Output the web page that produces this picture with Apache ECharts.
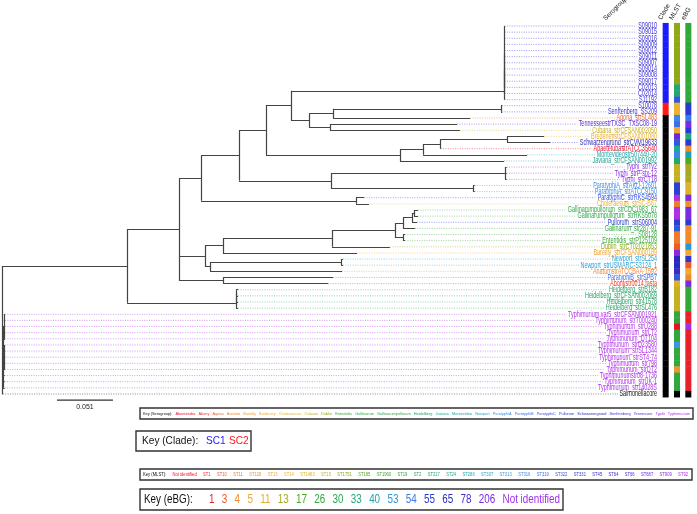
<!DOCTYPE html>
<html><head><meta charset="utf-8">
<script src="https://cdn.jsdelivr.net/npm/echarts@6/dist/echarts.min.js"></script>
<style>html,body{margin:0;padding:0;background:#fff}#c{width:697px;height:514px}</style>
</head><body><div id="c"></div>
<script>
// ---------------- DATA ----------------
// Phylogeny (Newick, branch lengths in substitutions/site)
const treeNewick =
"((((((((((((((S09010:0.0005,S09015:0.0005,S09016:0.0005,S09009:0.0005,S09012:0.0005,S09011:0.0005,S09007:0.0005,S09014:0.0005,S09008:0.0005,S09017:0.0005):0,C02013:0.0005):0,C02014:0.0005):0,S11192:0.0005):0.1940," +
"(((S10078:0.001,Senftenberg_SS209:0.001):0.1530,Agona_strSL483:0.1248):0.0219,(TennesseestrTXSC_TXSC08-19:0.1157,Cubana_strCFSAN002050:0.1184):0.0191):0.0164):0.0228," +
"((((BredeneystrCFSAN001080:0.0337,Schwarzengrund_strCVM19633:0.0392):0.0610,AbaetetubastrATCC35640:0.0005):0.0155,Montevideostr507440-20:0.0947):0.0210,Javiana_strCFSAN001992:0.0947):0.1221):0.0246," +
"((Typhi_strTy2:0.0015,Typhi_strP-stx-12:0.0015,Typhi_strCT18:0.0015):0.1585,(ParatyphiA_strAKU-12601:0.0015,ParatyphiA_strATCC9150:0.0015):0.1294):0.0838):0.0346," +
"(ParatyphiC_strRKS4594:0.0073,Choleraesuis_strSC-B67:0.0118):0.1412):0.0200," +
"((((((((Gallinarumpullorum_strCDC1983_67:0.0036,Gallinarumpullorum_strRKS5078:0.0036):0.0018,Pullorum_strS06004:0.0046):0.0082,Gallinarum_str287-91:0.0109):0.0073,(S08128:0.0018,Enteritidis_strP125109:0.0018):0.0073):0.0574,Dublin_strCT02021853:0.0528):0.0993,Bareilly_strCFSAN000189:0.1221):0.0164," +
"((Newport_strSL254:0.0018,Newport_strUSMARC-S3124_1:0.0018):0.1193,AnatumstrATCCBAA-1592:0.1203):0.0046):0.0118):0.0118," +
"(ParatyphiB_strSPB7:0.1002,Abonystr0014.fasta:0.0957):0.0401):0.0474," +
"(((Heidelberg_strB182:0.0018,Heidelberg_strCFSAN002069:0.0018):0,Heidelberg_str41578:0.0018):0,Heidelberg_strSL476:0.0018):0.0993):0.1139," +
"((Typhimurium.var5_strCFSAN001921:0.001,Typhimurium_strT000240:0.001,Typhimurium_strU288:0.001,Typhimurium_strLT2:0.001,Typhimurium_DT104:0.001):0.0008," +
"(Typhimurium_strD23580:0.001,Typhimurium_strSL1344:0.001,Typhimurium_strST4-74:0.001,Typhimurium_str798:0.001,Typhimurium_strDT2:0.001):0.0008," +
"Typhimuriumstr08-1736:0.0015,Typhimurium_strUK-1:0.0015,Typhimurium_str14028S:0.0015):0.0009,Salmonellacore:0.0008);";

// Per-leaf annotations, top to bottom
const leafSerogroup = [
 "Senftenberg","Senftenberg","Senftenberg","Senftenberg","Senftenberg","Senftenberg","Senftenberg","Senftenberg","Senftenberg","Senftenberg",
 "Senftenberg","Senftenberg","Senftenberg","Senftenberg","Senftenberg","Agona","Tennessee","Cubana","Bredeney","Schwarzengrund",
 "Abaetetuba","Montevideo","Javiana","Typhi","Typhi","Typhi","ParatyphiA","ParatyphiA","ParatyphiC","Choleraesuis",
 "Gallinarumpullorum","Gallinarumpullorum","Pullorum","Gallinarum","Enteritidis","Enteritidis","Dublin","Bareilly","Newport","Newport",
 "Anatum","ParatyphiB","Abony","Heidelberg","Heidelberg","Heidelberg","Heidelberg","Typhimurium","Typhimurium","Typhimurium",
 "Typhimurium","Typhimurium","Typhimurium","Typhimurium","Typhimurium","Typhimurium","Typhimurium","Typhimurium","Typhimurium","Typhimurium","none"];
const leafClade = [
 "SC1","SC1","SC1","SC1","SC1","SC1","SC1","SC1","SC1","SC1","SC1","SC1","SC1","SC2","SC2",
 "-","-","-","-","-","-","-","-","-","-","-","-","-","-","-","-","-","-","-","-","-","-","-","-","-","-","-","-","-","-","-",
 "-","-","-","-","-","-","-","-","-","-","-","-","-","-","-"];
const leafMLST = [
 "ST1751","ST1751","ST1751","ST1751","ST1751","ST1751","ST1751","ST1751","ST1751","ST1751",
 "ST217","ST217","ST322","ST14","ST14","ST316","ST319","ST13","ST687","ST322",
 "ST24","ST316","ST217","ST15","ST15","ST15","ST331","ST331","ST92","ST11",
 "ST92","ST92","ST331","ST322","ST11","ST11","ST10","ST909","ST45","ST45",
 "ST64","ST322","ST1483","ST15","ST15","ST15","ST15","ST19","ST19","Not identified",
 "ST19","ST19","ST313","ST19","ST19","ST19","ST128","ST19","ST19","ST19","-"];
const leafEBG = [
 "26","26","26","26","26","26","26","26","26","26","26","26","26","55","55",
 "54","206","55","33","55","4","40","17","13","13","13","11","11","206","4",
 "206","206","55","4","4","4","53","5","55","3",
 "5","4","206","26","26","26","26","1","1","Not identified",
 "1","1","1","1","1","1","1","1","1","1","-"];

const serogroupKey = ["Abaetetuba","Abony","Agona","Anatum","Bareilly","Bredeney","Choleraesuis","Cubana","Dublin","Enteritidis","Gallinarum","Gallinarumpullorum","Heidelberg","Javiana","Montevideo","Newport","ParatyphiA","ParatyphiB","ParatyphiC","Pullorum","Schwarzengrund","Senftenberg","Tennessee","Typhi","Typhimurium"];
const serogroupColors = ["#e8112d","#ec3b24","#f0622a","#f3892b","#f5a02a","#f2ad2a","#e6b52c","#c8b020","#8fa818","#3aa83a","#2ea838","#30a84a","#25a265","#1ea38a","#1fa3a8","#27a0d8","#3a8ee8","#3a6fe8","#3450e0","#2a35c8","#2a2ab8","#3a30d8","#5a2ad8","#8a2ae8","#b030e8"];
const cladeKey = ["SC1","SC2"];
const cladeColors = ["#1a1aff","#ff1a1a"];
const mlstKey = ["Not identified","ST1","ST10","ST11","ST128","ST13","ST14","ST1483","ST15","ST1751","ST185","ST1960","ST19","ST2","ST217","ST24","ST286","ST307","ST313","ST316","ST319","ST322","ST331","ST45","ST64","ST66","ST687","ST909","ST92"];
const mlstColors = ["#e8102a","#ee2e2e","#f05a28","#f27a2a","#f2952e","#f2a830","#f0b030","#e0b028","#c4b020","#90a818","#58a828","#38a830","#30a83e","#28a855","#20a870","#20a890","#20a8a8","#28a0c8","#3898e0","#3a88e8","#3a70e8","#3058e0","#2a40d0","#2a2ac0","#3a2ac8","#4a2ad0","#6a2ad8","#8a2ae0","#b030e0"];
const ebgKey = ["1","3","4","5","11","13","17","26","30","33","40","53","54","55","65","78","206","Not identified"];
const ebgColors = ["#e8202a","#f05a28","#f28a2a","#f0a830","#e0b028","#a8a820","#50a828","#30a838","#28a850","#20a878","#20a0a8","#2a98d8","#3a78e8","#2a3ad0","#2a2ac0","#4a2ad0","#7a2ae0","#a030e8"];
const stripColumns = ["Clade","MLST","eBG"];
const scaleBarLength = 0.051;

// ---------------- TREE LAYOUT ----------------
function parseNewick(s){
  let i = 0;
  function node(){
    const n = {children:[], name:'', len:0};
    if (s[i] === '('){
      i++; n.children.push(node());
      while (s[i] === ','){ i++; n.children.push(node()); }
      i++;
    }
    let name = ''; while (i < s.length && '(),:;'.indexOf(s[i]) < 0) name += s[i++];
    n.name = name;
    if (s[i] === ':'){ i++; let num = ''; while (i < s.length && '(),;'.indexOf(s[i]) < 0) num += s[i++]; n.len = parseFloat(num); }
    return n;
  }
  return node();
}
const root = parseNewick(treeNewick);
const leaves = [];
(function layout(n, d){
  n.depth = d + n.len;
  if (!n.children.length){ n.y = leaves.length; leaves.push(n); }
  else { n.children.forEach(c => layout(c, n.depth)); n.y = (n.children[0].y + n.children[n.children.length-1].y) / 2; }
})(root, 0);
const segs = [];
(function collect(n, p){
  if (p) segs.push([[p.depth, n.y], [n.depth, n.y]]);
  if (n.children.length){
    segs.push([[n.depth, n.children[0].y], [n.depth, n.children[n.children.length-1].y]]);
    n.children.forEach(c => collect(c, n));
  }
})(root, null);

function colorOf(key, colors, v, dflt){ const k = key.indexOf(v); return k >= 0 ? colors[k] : dflt; }

// ---------------- TEXT UTILS ----------------
const FONT = "'Liberation Sans', Arial, Helvetica, sans-serif";
const mctx = document.createElement('canvas').getContext('2d');
function tw(text, font){ mctx.font = font; return mctx.measureText(text).width; }

const labelFont = "8.4px " + FONT;
const labelScaleX = 0.65;
const xMax = 0.5967;        // label column right edge on the distance axis
const nLeaves = leaves.length;

const leafData = leaves.map((l, i) => [l.depth, i, l.name, colorOf(serogroupKey, serogroupColors, leafSerogroup[i], '#111')]);

const stripData = [];
for (let i = 0; i < nLeaves; i++){
  stripData.push([0, i, colorOf(cladeKey, cladeColors, leafClade[i], '#000')]);
  stripData.push([1, i, colorOf(mlstKey, mlstColors, leafMLST[i], '#000')]);
  stripData.push([2, i, colorOf(ebgKey, ebgColors, leafEBG[i], '#000')]);
}

// ---------------- KEYS (graphic) ----------------
const graphics = [];
function keyRow(items, x0, x1, yc, fontPx, sx, box){
  graphics.push({type:'rect', shape:{x:box[0], y:box[1], width:box[2], height:box[3]}, style:{fill:'#fff', stroke:'#333', lineWidth:1.4}, z:10});
  const font = fontPx + "px " + FONT;
  const ws = items.map(it => tw(it[0], font) * sx);
  const tot = ws.reduce((a,b)=>a+b, 0);
  const gap = (x1 - x0 - tot) / (items.length - 1);
  let x = x0;
  items.forEach((it, k) => {
    graphics.push({type:'text', x:x, y:yc, scaleX:sx, z:11, style:{text:it[0], font:font, fill:it[1], align:'left', verticalAlign:'middle'}});
    x += ws[k] + gap;
  });
}
keyRow([["Key (Serogroup):","#111"]].concat(serogroupKey.map((s,k)=>[s, serogroupColors[k]])), 143, 690, 413.5, 4.3, 0.9, [140, 408, 553, 11]);
keyRow([["Key (MLST):","#111"]].concat(mlstKey.map((s,k)=>[s, mlstColors[k]])), 143, 688, 474.5, 4.6, 0.9, [140, 469, 552, 11]);

// clade key
(function(){
  const font = '11.5px ' + FONT, sx = 0.88;
  graphics.push({type:'rect', shape:{x:136, y:431, width:115, height:20}, style:{fill:'#fff', stroke:'#333', lineWidth:1.4}, z:10});
  graphics.push({type:'text', x:142, y:441, scaleX:sx, z:11, style:{text:'Key (Clade):', font:font, fill:'#111', align:'left', verticalAlign:'middle'}});
  graphics.push({type:'text', x:206, y:441, scaleX:sx, z:11, style:{text:cladeKey[0], font:font, fill:cladeColors[0], align:'left', verticalAlign:'middle'}});
  graphics.push({type:'text', x:229, y:441, scaleX:sx, z:11, style:{text:cladeKey[1], font:font, fill:cladeColors[1], align:'left', verticalAlign:'middle'}});
})();
// eBG key
(function(){
  graphics.push({type:'rect', shape:{x:140, y:489, width:423, height:21}, style:{fill:'#fff', stroke:'#333', lineWidth:1.4}, z:10});
  const font = '12px ' + FONT, sx = 0.82;
  graphics.push({type:'text', x:144, y:499.5, scaleX:sx, z:11, style:{text:'Key (eBG):', font:font, fill:'#111', align:'left', verticalAlign:'middle'}});
  const ws = ebgKey.map(t => tw(t, font) * sx);
  const tot = ws.reduce((a,b)=>a+b, 0);
  const gap = (560 - 209 - tot) / (ebgKey.length - 1);
  let x = 209;
  ebgKey.forEach((t, k) => {
    graphics.push({type:'text', x:x, y:499.5, scaleX:sx, z:11, style:{text:t, font:font, fill:ebgColors[k], align:'left', verticalAlign:'middle'}});
    x += ws[k] + gap;
  });
})();
// headers
graphics.push({type:'text', x:607, y:22, rotation:Math.PI/4, z:11, style:{text:'Serogroup', font:'6.5px '+FONT, fill:'#111', align:'left', verticalAlign:'bottom'}});
[[663,'Clade'],[674,'MLST'],[686,'eBG']].forEach(h => {
  graphics.push({type:'text', x:h[0], y:21, rotation:Math.PI/3, z:11, style:{text:h[1], font:'6.5px '+FONT, fill:'#111', align:'left', verticalAlign:'bottom'}});
});

// ---------------- CHART ----------------
const chart = echarts.init(document.getElementById('c'));
chart.setOption({
  animation: false,
  backgroundColor: '#fff',
  grid: [
    {left: 2, right: 40, top: 26, height: 368},
    {left: 660, width: 34, top: 26, height: 368}
  ],
  xAxis: [
    {type:'value', min:0, max:xMax, show:false, gridIndex:0},
    {type:'category', data:stripColumns, show:false, gridIndex:1}
  ],
  yAxis: [
    {type:'value', min:0, max:nLeaves-1, inverse:true, show:false, gridIndex:0},
    {type:'value', min:0, max:nLeaves-1, inverse:true, show:false, gridIndex:1}
  ],
  series: [
    {
      type:'lines', coordinateSystem:'cartesian2d', xAxisIndex:0, yAxisIndex:0,
      data: segs.map(s => ({coords: s})),
      lineStyle:{color:'#444', width:1.2, opacity:1}, silent:true, z:3
    },
    {
      type:'custom', xAxisIndex:0, yAxisIndex:0, data: leafData, z:2,
      renderItem: function(params, api){
        const d = leafData[params.dataIndex];
        const p = api.coord([d[0], d[1]]);
        const r = api.coord([xMax, d[1]]);
        const w = tw(d[2], labelFont) * labelScaleX;
        return {type:'group', children:[
          {type:'line', shape:{x1:p[0], y1:p[1], x2:r[0]-w-1.5, y2:p[1]}, style:{stroke:d[3], lineWidth:0.9, lineDash:[1,1.4], opacity:0.55}},
          {type:'text', x:r[0], y:p[1], scaleX:labelScaleX, style:{text:d[2], font:labelFont, fill:d[3], align:'right', verticalAlign:'middle'}}
        ]};
      }
    },
    {
      type:'custom', xAxisIndex:0, yAxisIndex:0, data:[[0.0501, nLeaves, scaleBarLength]], z:3,
      renderItem: function(params, api){
        const a = api.coord([api.value(0), api.value(1)]);
        const b = api.coord([api.value(0) + api.value(2), api.value(1)]);
        return {type:'group', children:[
          {type:'line', shape:{x1:a[0], y1:a[1], x2:b[0], y2:b[1]}, style:{stroke:'#333', lineWidth:1.2}},
          {type:'text', x:(a[0]+b[0])/2, y:a[1]+3, style:{text:String(api.value(2)), font:'7px '+FONT, fill:'#222', align:'center', verticalAlign:'top'}}
        ]};
      }
    },
    {
      type:'custom', xAxisIndex:1, yAxisIndex:1, data: stripData, z:2,
      renderItem: function(params, api){
        const d = stripData[params.dataIndex];
        const c = api.coord([d[0], d[1]]);
        const h = api.size([0, 1])[1];
        return {type:'rect', shape:{x:c[0]-3, y:c[1]-h/2, width:6, height:h+0.4}, style:{fill:d[2]}};
      }
    }
  ],
  graphic: graphics
});
</script></body></html>
